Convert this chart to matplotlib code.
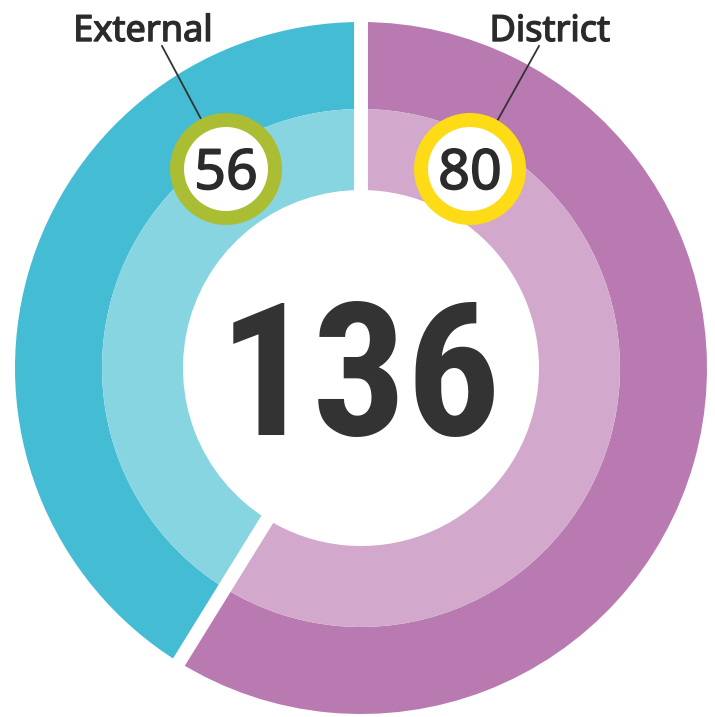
import matplotlib
matplotlib.use("Agg")
import matplotlib.pyplot as plt
from matplotlib.patches import Circle
import matplotlib.patheffects as pe
import numpy as np

# ---- data ----
categories = ["District", "External"]
values = [80, 56]
total_label = str(sum(values))

outer_colors = ["#B97AB2", "#44BCD4"]
inner_colors = ["#D3A8CD", "#88D5E2"]
badge_colors = ["#FDDB17", "#AABD33"]

W, H = 715, 717
fig = plt.figure(figsize=(W / 100, H / 100), dpi=100)
ax = fig.add_axes([0, 0, 1, 1])

cx, cy = 361, H - 368
R_out, R_mid, R_in = 346, 259, 178

ax.pie(values, radius=R_out, center=(cx, cy), startangle=90, counterclock=False,
       colors=outer_colors, wedgeprops=dict(width=R_out - R_mid, linewidth=0))
ax.pie(values, radius=R_mid, center=(cx, cy), startangle=90, counterclock=False,
       colors=inner_colors, wedgeprops=dict(width=R_mid - R_in, linewidth=0))

# white separators at segment boundaries
bounds = np.cumsum([0] + values[:-1])
for b in bounds:
    ang = np.deg2rad(90 - 360 * b / sum(values))
    ax.plot([cx, cx + (R_out + 10) * np.cos(ang)], [cy, cy + (R_out + 10) * np.sin(ang)],
            color="white", lw=10, solid_capstyle="butt", zorder=3)

# center total
ax.text(cx - 1, H - 435, total_label, ha="center", va="baseline", fontsize=134,
        fontweight="bold", color="#333333",
        family=["Roboto Condensed", "DejaVu Sans"], zorder=5)

# badges
badge_pos = {"District": (470, H - 169), "External": (226, H - 169)}
label_pos = {"District": (550, H - 41), "External": (143, H - 41)}
line_start = {"District": (539, H - 46), "External": (162, H - 46)}
line_end = {"District": (491, H - 132), "External": (208, H - 132)}

txt_col = "#2b2b2b"
for cat, val, bc in zip(categories, values, badge_colors):
    bx, by = badge_pos[cat]
    ax.add_patch(Circle((bx, by), 56, facecolor=bc, edgecolor="none", zorder=6))
    ax.add_patch(Circle((bx, by), 42, facecolor="white", edgecolor="none", zorder=7))
    ax.text(bx, by - 20, str(val), ha="center", va="baseline", fontsize=40,
            color=txt_col, family="Noto Sans", zorder=8,
            path_effects=[pe.withStroke(linewidth=1.1, foreground=txt_col)])
    sx, sy = line_start[cat]
    ex, ey = line_end[cat]
    ax.plot([sx, ex], [sy, ey], color="#333333", lw=1.3, zorder=5.5)
    lx, ly = label_pos[cat]
    ax.text(lx, ly, cat, ha="center", va="baseline", fontsize=26,
            color=txt_col, family="Noto Sans", zorder=8,
            path_effects=[pe.withStroke(linewidth=1.0, foreground=txt_col)])

ax.set_xlim(0, W)
ax.set_ylim(0, H)
ax.set_aspect("equal")
ax.axis("off")
fig.savefig("out.png", dpi=100, facecolor="white")
